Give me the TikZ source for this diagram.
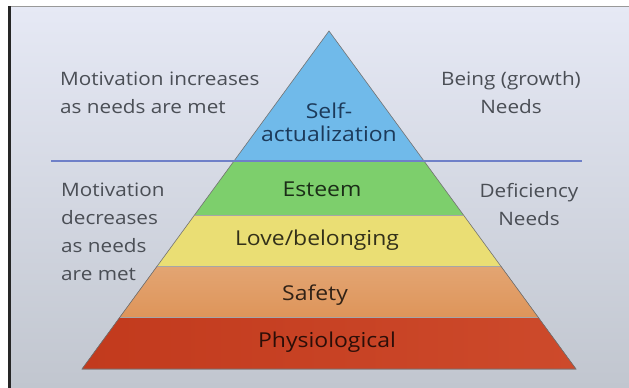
\documentclass[tikz,border=0pt]{standalone}
\usepackage{fontspec}
\setmainfont{Open Sans}[FakeStretch=1.12]
\usetikzlibrary{calc}

\definecolor{slideTop}{HTML}{E6E9F5}
\definecolor{slideBot}{HTML}{C1C6CF}
\definecolor{selfBlue}{HTML}{70BAEA}
\definecolor{esteemGreen}{HTML}{7DCF6C}
\definecolor{loveYellow}{HTML}{EADE74}
\definecolor{safetyOrange}{HTML}{DE955A}
\definecolor{physRed}{HTML}{C23A1D}
\definecolor{physRedR}{HTML}{CD4A2B}
\definecolor{splitBlue}{HTML}{6F80C8}
\definecolor{sideGray}{HTML}{4A4E55}
\definecolor{selfText}{HTML}{1C3A5A}

\tikzset{
  sidetext/.style={font=\fontsize{18.5}{28}\selectfont, text=sideGray, inner sep=0pt},
  layertext/.style={font=\fontsize{20.5}{23}\selectfont, text=black, text opacity=0.78, inner sep=0pt, anchor=base},
  seam/.style={draw=black!35, line width=0.6pt},
}

\begin{document}
\begin{tikzpicture}[x=1pt,y=-1pt]
\useasboundingbox (0,0) rectangle (629,388);
% slide
\fill[white] (0,0) rectangle (629,388);
\fill[top color=slideTop, bottom color=slideBot] (8,6) rectangle (629,388);
\draw[black!40, line width=0.8pt] (8,6.4) -- (629,6.4);
\draw[black!85, line width=2.4pt] (9.6,6) -- (9.6,388);

% pyramid corners and layer edges
\coordinate (top) at (329,31);
\coordinate (bl) at (82,369);
\coordinate (br) at (576,369);
\coordinate (l1) at ($(top)!0.3846!(bl)$);
\coordinate (r1) at ($(top)!0.3846!(br)$);
\coordinate (l2) at ($(top)!0.5444!(bl)$);
\coordinate (r2) at ($(top)!0.5444!(br)$);
\coordinate (l3) at ($(top)!0.6953!(bl)$);
\coordinate (r3) at ($(top)!0.6953!(br)$);
\coordinate (l4) at ($(top)!0.8462!(bl)$);
\coordinate (r4) at ($(top)!0.8462!(br)$);

% layers
\fill[selfBlue] (top) -- (r1) -- (l1) -- cycle;
\fill[esteemGreen] (l1) -- (r1) -- (r2) -- (l2) -- cycle;
\fill[loveYellow] (l2) -- (r2) -- (r3) -- (l3) -- cycle;
\fill[top color=safetyOrange!85!white, bottom color=safetyOrange] (l3) -- (r3) -- (r4) -- (l4) -- cycle;
\fill[left color=physRed, right color=physRedR] (l4) -- (r4) -- (br) -- (bl) -- cycle;
\draw[seam] (l2) -- (r2);
\draw[seam] (l3) -- (r3);
\draw[seam] (l4) -- (r4);
\draw[black!55, line width=0.6pt] (top) -- (br) -- (bl) -- cycle;

% split between growth and deficiency needs
\coordinate (splitL) at (51,161);
\coordinate (splitR) at (582,161);
\draw[splitBlue, line width=1.4pt] (splitL) -- (splitR);

% layer labels
\node[layertext, text=selfText, text opacity=1, align=center] (self) at (329,141) {Self-\\actualization};
\node[layertext] (esteem) at (322,196) {Esteem};
\node[layertext] (love) at (317,245) {Love/belonging};
\node[layertext] (safety) at (315,300) {Safety};
\node[layertext] (phys) at (327,347) {Physiological};

% side notes
\node[sidetext, anchor=base west, align=left] (incr) at (60,113) {Motivation increases\\as needs are met};
\node[sidetext, anchor=base, align=center] (growth) at (511,113) {Being (growth)\\Needs};
\node[sidetext, anchor=base west, align=left] (decr) at (61,280) {Motivation\\decreases\\as needs\\are met};
\node[sidetext, anchor=base, align=center] (defic) at (529,225) {Deficiency\\Needs};
\end{tikzpicture}
\end{document}
